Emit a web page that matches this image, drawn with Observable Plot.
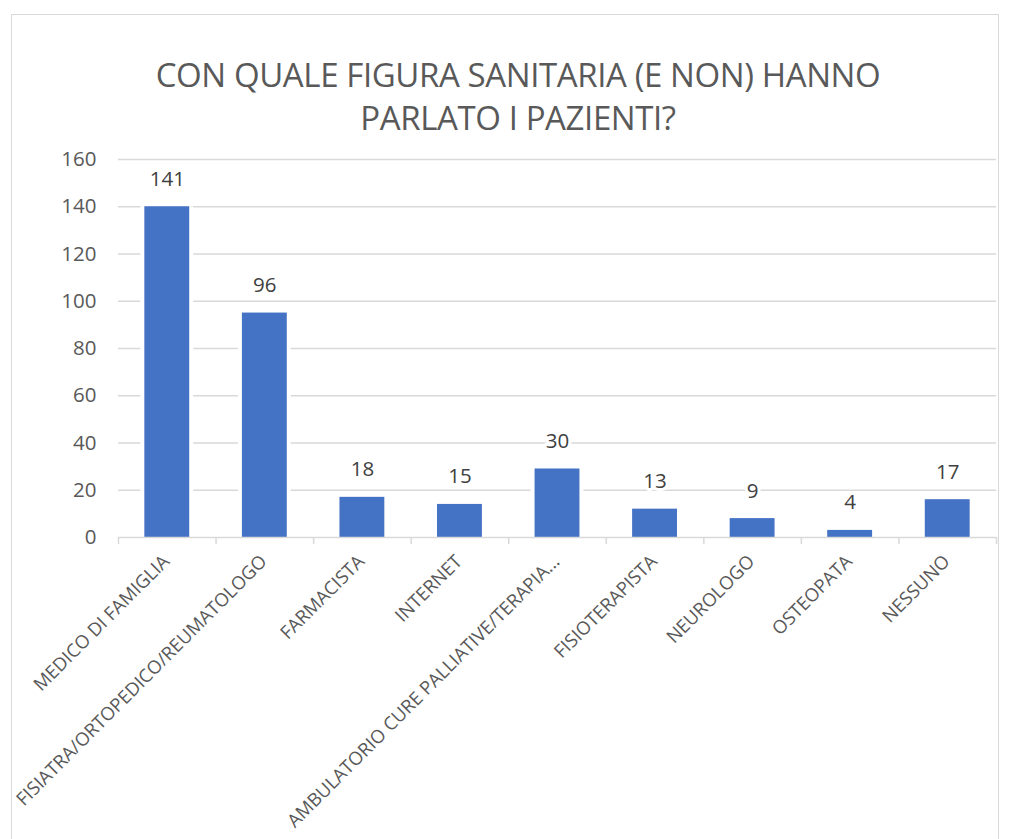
<!DOCTYPE html>
<html>
<head>
<meta charset="utf-8">
<script src="https://cdn.jsdelivr.net/npm/d3@7"></script>
<script src="https://cdn.jsdelivr.net/npm/@observablehq/plot@0.6"></script>
<style>
  html, body { margin: 0; padding: 0; background: #fff; }
  body { width: 1014px; height: 839px; position: relative; overflow: hidden; font-family: "Open Sans", sans-serif; }
  #frame { position: absolute; left: 11px; top: 14px; width: 988px; height: 840px; border: 1px solid #d9d9d9; box-sizing: border-box; }
  #title { position: absolute; left: 0; top: 53px; width: 1036px; text-align: center; font-size: 33px; line-height: 43px; color: #595959; font-weight: 400; letter-spacing: -0.4px; }
  #chart { position: absolute; left: 0; top: 140px; }
</style>
</head>
<body>
<div id="frame"></div>
<div id="title">CON QUALE FIGURA SANITARIA (E NON) HANNO<br>PARLATO I PAZIENTI?</div>
<div id="chart"></div>
<script>
const categories = [
  "MEDICO DI FAMIGLIA",
  "FISIATRA/ORTOPEDICO/REUMATOLOGO",
  "FARMACISTA",
  "INTERNET",
  "AMBULATORIO CURE PALLIATIVE/TERAPIA...",
  "FISIOTERAPISTA",
  "NEUROLOGO",
  "OSTEOPATA",
  "NESSUNO"
];
const labelValues = [141, 96, 18, 15, 30, 13, 9, 4, 17];
const barValues = [140, 95, 17, 14, 29, 12, 8, 3, 16];
const yTicks = [0, 20, 40, 60, 80, 100, 120, 140, 160];

const data = categories.map((c, i) => ({ i, c, bar: barValues[i], label: labelValues[i] }));
const boundaries = d3.range(categories.length + 1);

const chart = Plot.plot({
  width: 1014,
  height: 699,
  marginLeft: 118,
  marginRight: 18,
  marginTop: 19,
  marginBottom: 302,
  style: { fontFamily: "Open Sans, sans-serif", background: "transparent" },
  x: { domain: [0, categories.length], axis: null },
  y: { domain: [0, 160], axis: null },
  marks: [
    Plot.ruleY(yTicks.filter(d => d > 0), { stroke: "#d9d9d9", strokeWidth: 1.5 }),
    Plot.rectY(data, { x1: d => d.i + 0.27, x2: d => d.i + 0.73, y1: 0, y2: "bar", fill: "white", insetLeft: -4, insetRight: -4 }),
    Plot.rectY(data, { x1: d => d.i + 0.27, x2: d => d.i + 0.73, y1: 0, y2: "bar", fill: "#4472C4" }),
    Plot.ruleY([0], { stroke: "#d9d9d9", strokeWidth: 1.5 }),
    Plot.ruleX(boundaries, { x: d => d, y1: 0, y2: 0, insetBottom: -7, stroke: "#d9d9d9", strokeWidth: 1.5 }),
    Plot.text(yTicks, { x: 0, y: d => d, text: d => String(d), textAnchor: "end", dx: -22, fill: "#595959", fontSize: 20.5 }),
    Plot.text(data, { x: d => d.i + 0.5, y: "bar", text: d => String(d.label), lineAnchor: "bottom", dy: -21, fill: "#404040", fontSize: 20.5, stroke: "white", strokeWidth: 6 }),
    Plot.text(data, { x: d => d.i + 0.5, y: 0, text: "c", textAnchor: "end", rotate: -45, dy: 21, dx: -1, fill: "#595959", fontSize: 18.5 })
  ]
});

document.getElementById("chart").appendChild(chart);
</script>
</body>
</html>
